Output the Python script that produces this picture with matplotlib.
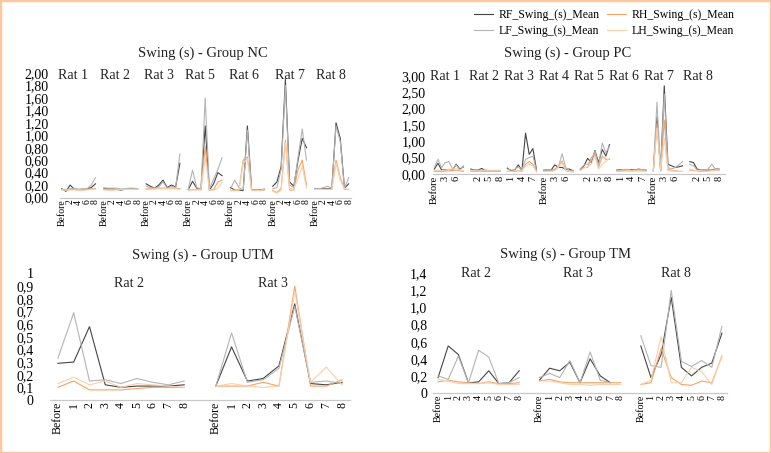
import numpy as np
import matplotlib.pyplot as plt
from matplotlib.patches import Rectangle

plt.rcParams['font.family'] = ['Liberation Serif', 'DejaVu Serif']

W, H = 771, 453
points = ['Before', '1', '2', '3', '4', '5', '6', '7', '8']
series_names = ['RF_Swing_(s)_Mean', 'RH_Swing_(s)_Mean', 'LF_Swing_(s)_Mean', 'LH_Swing_(s)_Mean']
series_colors = ['#454545', '#f5a365', '#b4b4b4', '#fbcfab']

# ---- Group NC
nc_rats = ['Rat 1', 'Rat 2', 'Rat 3', 'Rat 5', 'Rat 6', 'Rat 7', 'Rat 8']
nc_rf = [[0.14, 0.10, 0.20, 0.13, 0.13, 0.13, 0.14, 0.16, 0.22],
         [0.15, 0.14, 0.14, 0.13, 0.12, 0.13, 0.14, 0.14, 0.13],
         [0.22, 0.18, 0.15, 0.20, 0.28, 0.16, 0.20, 0.17, 0.55],
         [0.13, 0.26, 0.15, 0.14, 1.15, 0.12, 0.22, 0.40, 0.35],
         [0.16, 0.12, 0.12, 0.11, 1.15, 0.12, 0.12, 0.12, 0.13],
         [0.18, 0.25, 0.50, 1.90, 0.25, 0.18, 0.60, 0.95, 0.80],
         [0.14, 0.14, 0.14, 0.14, 0.14, 1.20, 0.95, 0.15, 0.22]]
nc_lf = [[0.13, 0.13, 0.14, 0.15, 0.13, 0.14, 0.14, 0.20, 0.32],
         [0.15, 0.15, 0.15, 0.15, 0.14, 0.14, 0.15, 0.15, 0.14],
         [0.18, 0.16, 0.15, 0.17, 0.25, 0.15, 0.18, 0.16, 0.70],
         [0.14, 0.44, 0.16, 0.13, 1.60, 0.14, 0.30, 0.45, 0.64],
         [0.14, 0.28, 0.16, 0.12, 1.08, 0.12, 0.12, 0.11, 0.14],
         [0.14, 0.16, 0.45, 1.80, 0.20, 0.16, 0.65, 1.10, 0.60],
         [0.14, 0.14, 0.16, 0.18, 0.15, 1.15, 0.90, 0.15, 0.32]]
nc_rh = [[0.13, 0.12, 0.13, 0.13, 0.12, 0.12, 0.13, 0.14, 0.14],
         [0.13, 0.12, 0.12, 0.13, 0.13, 0.13, 0.14, 0.14, 0.14],
         [0.14, 0.14, 0.14, 0.15, 0.15, 0.15, 0.15, 0.15, 0.14],
         [0.12, 0.13, 0.13, 0.12, 0.82, 0.12, 0.13, 0.25, 0.28],
         [0.11, 0.11, 0.12, 0.60, 0.65, 0.12, 0.12, 0.12, 0.12],
         [0.11, 0.08, 0.15, 0.92, 0.12, 0.12, 0.45, 0.60, 0.20],
         [0.13, 0.13, 0.13, 0.13, 0.13, 0.60, 0.32, 0.13, 0.13]]
nc_lh = [[0.12, 0.12, 0.12, 0.12, 0.12, 0.12, 0.12, 0.13, 0.13],
         [0.12, 0.12, 0.12, 0.12, 0.13, 0.13, 0.13, 0.13, 0.13],
         [0.13, 0.13, 0.14, 0.14, 0.14, 0.14, 0.14, 0.14, 0.13],
         [0.12, 0.12, 0.12, 0.13, 0.65, 0.12, 0.12, 0.15, 0.24],
         [0.11, 0.12, 0.12, 0.55, 0.62, 0.11, 0.11, 0.11, 0.12],
         [0.10, 0.07, 0.12, 0.88, 0.14, 0.14, 0.30, 0.50, 0.15],
         [0.13, 0.13, 0.13, 0.13, 0.13, 0.55, 0.28, 0.14, 0.13]]

# ---- Group PC
pc_rats = ['Rat 1', 'Rat 2', 'Rat 3', 'Rat 4', 'Rat 5', 'Rat 6', 'Rat 7', 'Rat 8']
pc_rf = [[0.15, 0.33, 0.12, 0.13, 0.14, 0.12, 0.30, 0.15, 0.22],
         [0.15, 0.12, 0.12, 0.17, 0.10, 0.10, 0.10, 0.10, 0.10],
         [0.18, 0.10, 0.12, 0.28, 0.10, 1.25, 0.60, 0.78, 0.12],
         [0.12, 0.12, 0.12, 0.28, 0.20, 0.20, 0.15, 0.15, 0.10],
         [0.15, 0.25, 0.48, 0.35, 0.72, 0.35, 0.75, 0.55, 0.90],
         [0.12, 0.13, 0.12, 0.12, 0.14, 0.12, 0.15, 0.12, 0.12],
         [0.10, 1.75, 0.10, 2.70, 0.30, 0.25, 0.20, 0.22, 0.25],
         [0.38, 0.35, 0.15, 0.12, 0.12, 0.12, 0.12, 0.15, 0.15]]
pc_lf = [[0.20, 0.45, 0.20, 0.35, 0.38, 0.15, 0.28, 0.12, 0.25],
         [0.12, 0.12, 0.12, 0.12, 0.12, 0.11, 0.11, 0.11, 0.11],
         [0.15, 0.12, 0.14, 0.22, 0.12, 0.45, 0.50, 0.55, 0.10],
         [0.12, 0.12, 0.12, 0.15, 0.20, 0.62, 0.20, 0.10, 0.10],
         [0.15, 0.28, 0.30, 0.40, 0.70, 0.25, 0.95, 0.65, 0.85],
         [0.10, 0.12, 0.14, 0.14, 0.12, 0.12, 0.14, 0.14, 0.10],
         [0.10, 2.20, 0.12, 2.45, 0.20, 0.15, 0.20, 0.28, 0.38],
         [0.30, 0.25, 0.12, 0.12, 0.10, 0.15, 0.30, 0.15, 0.12]]
pc_rh = [[0.08, 0.08, 0.08, 0.09, 0.10, 0.10, 0.12, 0.10, 0.08],
         [0.09, 0.08, 0.08, 0.08, 0.08, 0.08, 0.09, 0.08, 0.08],
         [0.08, 0.08, 0.08, 0.10, 0.08, 0.30, 0.38, 0.30, 0.07],
         [0.08, 0.08, 0.10, 0.12, 0.25, 0.40, 0.10, 0.08, 0.07],
         [0.12, 0.20, 0.20, 0.50, 0.60, 0.20, 0.55, 0.45, 0.45],
         [0.09, 0.09, 0.10, 0.10, 0.10, 0.10, 0.10, 0.10, 0.09],
         [0.10, 1.55, 0.10, 1.65, 0.15, 0.10, 0.10, 0.08, 0.08],
         [0.12, 0.10, 0.10, 0.08, 0.08, 0.10, 0.12, 0.12, 0.12]]
pc_lh = [[0.10, 0.12, 0.10, 0.12, 0.14, 0.15, 0.16, 0.12, 0.10],
         [0.10, 0.10, 0.09, 0.09, 0.10, 0.10, 0.10, 0.10, 0.10],
         [0.08, 0.08, 0.10, 0.10, 0.10, 0.25, 0.30, 0.25, 0.07],
         [0.08, 0.08, 0.08, 0.10, 0.20, 0.35, 0.12, 0.08, 0.07],
         [0.10, 0.18, 0.22, 0.30, 0.55, 0.15, 0.30, 0.38, 0.48],
         [0.08, 0.09, 0.09, 0.10, 0.09, 0.10, 0.10, 0.09, 0.08],
         [0.10, 1.40, 0.12, 1.10, 0.10, 0.10, 0.08, 0.08, 0.08],
         [0.15, 0.12, 0.10, 0.10, 0.08, 0.08, 0.10, 0.12, 0.12]]

# ---- Group UTM
utm_rats = ['Rat 2', 'Rat 3']
utm_rf = [[0.29, 0.30, 0.58, 0.12, 0.10, 0.11, 0.11, 0.11, 0.12],
          [0.11, 0.42, 0.15, 0.17, 0.27, 0.76, 0.13, 0.12, 0.14]]
utm_lf = [[0.33, 0.69, 0.15, 0.16, 0.13, 0.17, 0.14, 0.12, 0.15],
          [0.11, 0.53, 0.14, 0.16, 0.25, 0.74, 0.14, 0.15, 0.13]]
utm_rh = [[0.10, 0.15, 0.08, 0.08, 0.08, 0.09, 0.10, 0.10, 0.10],
          [0.11, 0.11, 0.11, 0.14, 0.11, 0.90, 0.11, 0.11, 0.16]]
utm_lh = [[0.13, 0.18, 0.12, 0.15, 0.10, 0.13, 0.12, 0.11, 0.10],
          [0.11, 0.13, 0.11, 0.10, 0.11, 0.86, 0.14, 0.26, 0.12]]

# ---- Group TM
tm_rats = ['Rat 2', 'Rat 3', 'Rat 8']
tm_rf = [[0.18, 0.55, 0.45, 0.12, 0.13, 0.26, 0.11, 0.12, 0.26],
         [0.15, 0.29, 0.26, 0.36, 0.12, 0.40, 0.20, 0.12, np.nan],
         [0.55, 0.18, 0.45, 1.12, 0.30, 0.20, 0.30, 0.35, 0.70]]
tm_lf = [[0.20, 0.16, 0.43, 0.12, 0.50, 0.42, 0.11, 0.12, 0.18],
         [0.18, 0.23, 0.18, 0.38, 0.12, 0.48, 0.15, 0.12, np.nan],
         [0.67, 0.32, 0.30, 1.20, 0.37, 0.31, 0.38, 0.30, 0.78]]
tm_rh = [[0.13, 0.15, 0.13, 0.12, 0.11, 0.13, 0.11, 0.11, 0.12],
         [0.14, 0.16, 0.13, 0.12, 0.12, 0.12, 0.12, 0.12, 0.12],
         [0.10, 0.12, 0.52, 0.18, 0.10, 0.09, 0.14, 0.12, 0.43]]
tm_lh = [[0.16, 0.14, 0.11, 0.11, 0.11, 0.12, 0.10, 0.10, 0.10],
         [0.14, 0.14, 0.12, 0.10, 0.10, 0.09, 0.10, 0.10, 0.10],
         [0.10, 0.15, 0.66, 0.12, 0.12, 0.30, 0.25, 0.10, 0.44]]


def px_rect(x0, x1, ytop, ybot):
    return [x0 / W, 1 - ybot / H, (x1 - x0) / W, (ybot - ytop) / H]


def draw_panel(rect, rats, rf, lf, rh, lh, ymax, ystep, fmt, every, nbins,
               rat_x, rat_y, xfs, ypad):
    ax = fig.add_axes(rect)
    cats = []
    for g in range(len(rats)):
        cats += points + ['']
    cats = cats[:nbins]
    handles = []
    for data, col in zip([rf, rh, lf, lh], series_colors):
        for g, vals in enumerate(data):
            x = np.arange(9) + 10 * g
            ln, = ax.plot(x, vals, color=col, lw=0.8)
            if g == 0:
                handles.append(ln)
    ax.set_xlim(-0.5, nbins - 0.5)
    ax.set_ylim(0, ymax)
    ticks = np.arange(0, ymax + ystep / 2, ystep)
    ax.set_yticks(ticks)
    ax.set_yticklabels([fmt(t) for t in ticks], fontsize=10)
    idx = [i for i in range(len(cats)) if i % every == 0]
    ax.set_xticks(idx)
    ax.set_xticklabels([cats[i] for i in idx], rotation=90, fontsize=xfs)
    ax.tick_params(axis='both', length=0)
    ax.tick_params(axis='x', pad=1.5)
    ax.tick_params(axis='y', pad=ypad)
    for s in ['top', 'right', 'left']:
        ax.spines[s].set_visible(False)
    ax.spines['bottom'].set_color('#c8c8c8')
    ax.spines['bottom'].set_linewidth(0.9)
    for name, xr in zip(rats, rat_x):
        ax.text(xr, rat_y, name, fontsize=10, ha='center', va='center',
                transform=ax.get_xaxis_transform(), color='#222222')
    return handles


fig = plt.figure(figsize=(W / 100, H / 100), dpi=100)

f2 = lambda v: f'{v:.2f}'.replace('.', ',')
fg = lambda v: f'{v:g}'.replace('.', ',')
f1 = lambda v: '0' if v == 0 else f'{v:.1f}'.replace('.', ',')

handles = draw_panel(px_rect(59.6, 350.8, 73, 197.5), nc_rats, nc_rf, nc_lf, nc_rh, nc_lh,
                     2.0, 0.2, f2, 2, 69, [2.7, 12.6, 23.1, 32.8, 43.2, 54.0, 63.8], 0.98, 7, 8)
draw_panel(px_rect(432.5, 724.5, 76, 174), pc_rats, pc_rf, pc_lf, pc_rh, pc_lh,
           3.0, 0.5, f2, 3, 80, [2.9, 13.6, 23.2, 32.8, 42.4, 52.0, 61.6, 72.3], 1.0, 7.5, 5)
draw_panel(px_rect(50, 350, 273.5, 400), utm_rats, utm_rf, utm_lf, utm_rh, utm_lh,
           1.0, 0.1, fg, 1, 19, [4.5, 13.6], 0.92, 8.5, 12)
draw_panel(px_rect(433, 727, 273.3, 393), tm_rats, tm_rf, tm_lf, tm_rh, tm_lh,
           1.4, 0.2, f1, 1, 29, [3.7, 13.8, 23.5], 1.0, 7.2, 4)

titles = ['Swing (s) - Group NC', 'Swing (s) - Group PC', 'Swing (s) - Group UTM', 'Swing (s) - Group TM']
title_xy = [(203, 53), (568, 53), (203, 255), (565, 254)]
for t, (tx, ty) in zip(titles, title_xy):
    fig.text(tx / W, 1 - ty / H, t, fontsize=10.5, ha='center', va='center', color='#222222')

order = [0, 2, 1, 3]
fig.legend([handles[i] for i in order], [series_names[i] for i in order],
           loc='upper left', bbox_to_anchor=(474 / W, 1 - 9 / H), ncol=2,
           frameon=False, fontsize=8.5, handlelength=1.6, handletextpad=0.5,
           columnspacing=0.6, labelspacing=0.35, borderaxespad=0, borderpad=0)

fig.patches.append(Rectangle((0, 0), 1, 1, transform=fig.transFigure, fill=False,
                             edgecolor='#fcc99e', lw=2.5))

fig.savefig('out.png', dpi=100)
